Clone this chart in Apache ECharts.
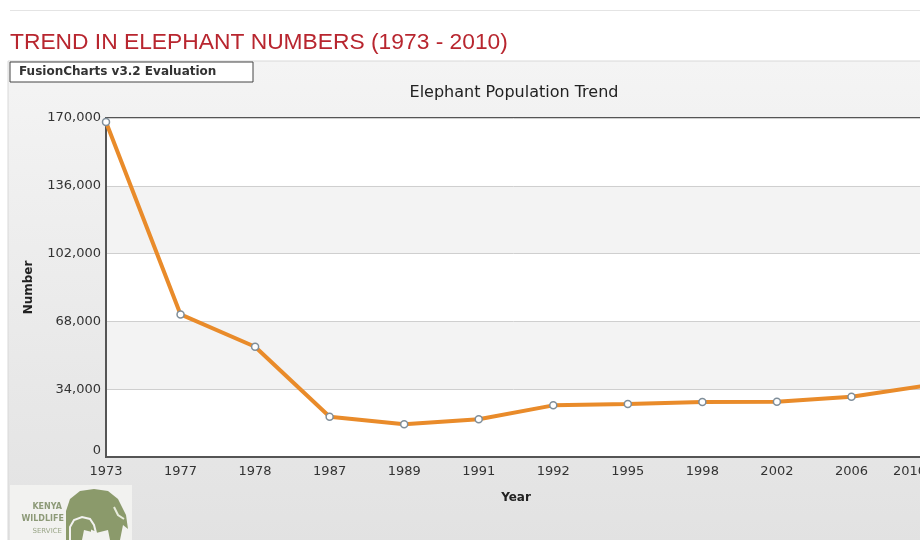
<!DOCTYPE html>
<html>
<head>
<meta charset="utf-8">
<title>Trend in elephant numbers</title>
<script src="https://cdn.jsdelivr.net/npm/echarts@6/dist/echarts.min.js"></script>
<style>
  html, body { margin: 0; padding: 0; background: #fff; }
  #chart { width: 920px; height: 540px; }
</style>
</head>
<body>
<div id="chart"></div>
<script>
// data
const years = ["1973", "1977", "1978", "1987", "1989", "1991", "1992", "1995", "1998", "2002", "2006", "2010"];
const elephants = [168000, 71500, 55300, 20200, 16400, 18900, 25900, 26600, 27600, 27700, 30200, 35800];
const yTicks = { min: 0, max: 170000, step: 34000 };

// 170000 -> "170,000"
function withCommas(v) {
    return String(v).replace(/\B(?=(\d{3})+(?!\d))/g, ",");
}

const chart = echarts.init(document.getElementById("chart"));

chart.setOption({
    backgroundColor: "#fff",
    animation: false,
    title: {
        text: "TREND IN ELEPHANT NUMBERS (1973 - 2010)",
        left: 5,
        top: 26,
        textStyle: {
            fontFamily: "Liberation Sans",
            fontSize: 22.8,
            fontWeight: "normal",
            color: "#b8262f"
        }
    },
    graphic: [
        // thin rule at the very top of the page
        {type: "rect", silent: true, z: -10, shape: {x: 10, y: 10, width: 910, height: 1}, style: {fill: "#e4e4e4"}},
        // the grey chart panel
        {
            type: "rect", silent: true, z: -10,
            shape: {x: 8, y: 61, width: 916, height: 482},
            style: {
                fill: new echarts.graphic.LinearGradient(0, 0, 0, 1, [
                    {offset: 0, color: "#f4f4f4"},
                    {offset: 1, color: "#e2e2e2"}
                ]),
                stroke: "#d8d8d8", lineWidth: 1
            }
        },
        // evaluation stamp
        {type: "rect", shape: {x: 10, y: 62, width: 243, height: 20}, style: {fill: "#fff", stroke: "#444", lineWidth: 1}},
        {type: "text", x: 19, y: 72, style: {
            text: "FusionCharts v3.2 Evaluation", fill: "#333",
            font: "bold 12px 'DejaVu Sans'", verticalAlign: "middle"
        }},
        // chart caption
        {type: "text", x: 514, y: 93, style: {
            text: "Elephant Population Trend", fill: "#222",
            font: "16px 'DejaVu Sans'", align: "center", verticalAlign: "middle"
        }},
        // Kenya Wildlife Service logo, roughly
        {
            type: "group", x: 10, y: 485,
            children: [
                {type: "rect", shape: {x: 0, y: 0, width: 122, height: 60}, style: {fill: "#f2f2f0"}},
                {type: "text", x: 52, y: 22, style: {text: "KENYA", fill: "#8d9a78", font: "bold 8px 'DejaVu Sans'", align: "right", verticalAlign: "middle"}},
                {type: "text", x: 54, y: 34, style: {text: "WILDLIFE", fill: "#8d9a78", font: "bold 8px 'DejaVu Sans'", align: "right", verticalAlign: "middle"}},
                {type: "text", x: 52, y: 46, style: {text: "SERVICE", fill: "#9aa688", font: "7px 'DejaVu Sans'", align: "right", verticalAlign: "middle"}},
                {
                    type: "polygon",
                    shape: {points: [[56, 55], [56, 26], [60, 14], [70, 6], [84, 4], [98, 6], [108, 14], [112, 22], [116, 30], [118, 44], [113, 40], [110, 55], [100, 55], [98, 45], [86, 48], [74, 45], [72, 55]]},
                    style: {fill: "#8b9a6b"}
                },
                {
                    type: "polyline",
                    shape: {points: [[60, 55], [60, 42], [64, 35], [72, 32], [80, 34], [84, 40], [86, 48], [82, 46], [82, 55]]},
                    style: {fill: "none", stroke: "#f2f2f0", lineWidth: 2}
                },
                {type: "polyline", shape: {points: [[104, 22], [108, 30], [114, 34]]}, style: {fill: "none", stroke: "#e8ecdc", lineWidth: 2}}
            ]
        }
    ],
    grid: {
        left: 106,
        top: 118,
        right: -6,
        bottom: 83,
        outerBoundsMode: "none",
        show: true,
        borderColor: "#555",
        borderWidth: 2,
        backgroundColor: "#fff"
    },
    xAxis: {
        type: "category",
        data: years,
        boundaryGap: false,
        name: "Year",
        nameLocation: "middle",
        nameGap: 35,
        nameTextStyle: {fontFamily: "DejaVu Sans", fontWeight: "bold", fontSize: 12, color: "#222"},
        axisLine: {lineStyle: {color: "#555", width: 2}},
        axisTick: {show: false},
        axisLabel: {fontFamily: "DejaVu Sans", fontSize: 13, color: "#333", margin: 8, alignMaxLabel: "right"}
    },
    yAxis: {
        type: "value",
        min: yTicks.min,
        max: yTicks.max,
        interval: yTicks.step,
        name: "Number",
        nameLocation: "middle",
        nameRotate: 90,
        nameGap: 71,
        nameTextStyle: {fontFamily: "DejaVu Sans", fontWeight: "bold", fontSize: 12, color: "#222"},
        axisLine: {show: true, lineStyle: {color: "#555", width: 2}},
        axisTick: {show: false},
        axisLabel: {fontFamily: "DejaVu Sans", fontSize: 13, color: "#333", margin: 5, formatter: withCommas, verticalAlignMinLabel: "bottom"},
        splitLine: {lineStyle: {color: "#cfcfcf", width: 1}},
        splitArea: {show: true, areaStyle: {color: ["#ffffff", "#f3f3f3"]}}
    },
    series: [{
        type: "line",
        data: elephants,
        symbol: "circle",
        symbolSize: 7,
        lineStyle: {color: "#e98b2a", width: 4},
        itemStyle: {color: "#fff", borderColor: "#7f8e9a", borderWidth: 1.5}
    }]
});
</script>
</body>
</html>
